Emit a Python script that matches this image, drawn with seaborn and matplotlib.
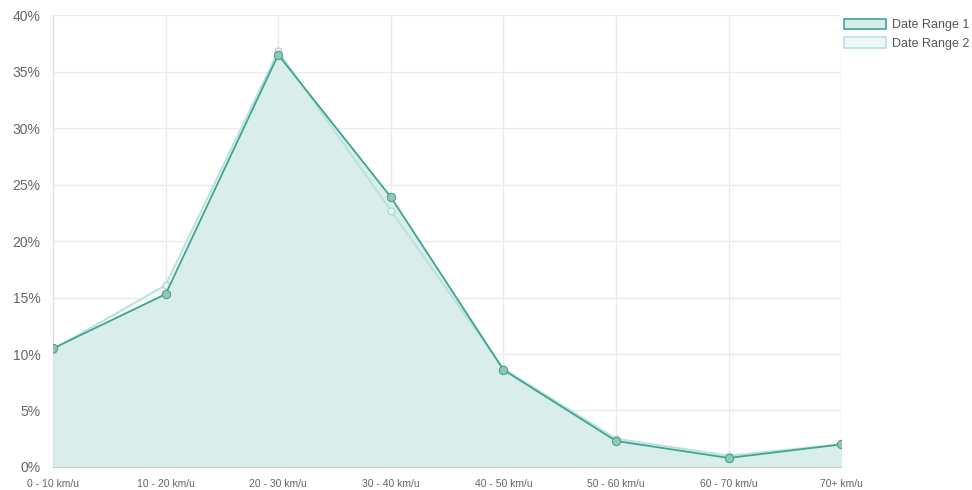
import pandas as pd
import numpy as np
import matplotlib.pyplot as plt
import seaborn as sns
from matplotlib.patches import Patch

# Data
categories = ['0 - 10 km/u', '10 - 20 km/u', '20 - 30 km/u', '30 - 40 km/u',
              '40 - 50 km/u', '50 - 60 km/u', '60 - 70 km/u', '70+ km/u']
range_1 = [10.5, 15.3, 36.5, 23.9, 8.6, 2.3, 0.8, 2.0]
range_2 = [10.4, 16.1, 36.8, 22.7, 8.7, 2.5, 1.0, 2.0]

line_1 = '#3fa58f'
fill_1 = '#d9eeeb'
line_2 = '#b8e2e0'
fill_2 = '#eef8f8'

df = pd.DataFrame({'speed': categories * 2,
                   'pct': range_1 + range_2,
                   'series': ['Date Range 1'] * 8 + ['Date Range 2'] * 8})

sns.set_style('white')
plt.rcParams['font.family'] = ['Liberation Sans', 'DejaVu Sans']

fig = plt.figure(figsize=(9.72, 4.9), dpi=100)
ax = fig.add_axes([0.0545, 0.047, 0.811, 0.922])

x = np.arange(len(categories))
ax.fill_between(x, range_2, color=fill_2, alpha=0.6, zorder=1)
ax.fill_between(x, range_1, color=fill_1, zorder=1)

sns.lineplot(data=df[df.series == 'Date Range 2'], x='speed', y='pct', ax=ax,
             color=line_2, linewidth=1.4, marker='o', markersize=5,
             markerfacecolor='#e6f4f3', markeredgecolor='#a9cfcc', zorder=3,
             sort=False)
sns.lineplot(data=df[df.series == 'Date Range 1'], x='speed', y='pct', ax=ax,
             color=line_1, linewidth=1.3, marker='o', markersize=6,
             markerfacecolor='#8fc7b8', markeredgecolor='#4d9d88', zorder=4,
             sort=False)

ax.set_xlim(0, len(categories) - 1)
ax.set_ylim(0, 40)
ax.set_yticks(range(0, 41, 5))
ax.set_yticklabels([f'{v}%' for v in range(0, 41, 5)], fontsize=10, color='#666666')
ax.set_xticks(x)
ax.set_xticklabels(categories, fontsize=7.5, color='#666666')
ax.set_xlabel('')
ax.set_ylabel('')
ax.grid(True, color='#ebebeb', linewidth=1)
ax.tick_params(axis='both', length=0)
ax.tick_params(axis='x', pad=9)
ax.tick_params(axis='y', pad=9)
for s in ['top', 'right']:
    ax.spines[s].set_visible(False)
ax.spines['left'].set_color('#e0e0e0')
ax.spines['bottom'].set_color('#cccccc')

handles = [Patch(facecolor=fill_1, edgecolor=line_1, linewidth=1.2, label='Date Range 1'),
           Patch(facecolor=fill_2, edgecolor=line_2, linewidth=1.2, label='Date Range 2')]
leg = fig.legend(handles=handles, loc='upper left', bbox_to_anchor=(0.857, 0.985),
                 frameon=False, fontsize=9, handlelength=3.3, handleheight=0.9,
                 labelspacing=0.5, handletextpad=0.5)
for t in leg.get_texts():
    t.set_color('#555555')

plt.savefig('out.png', dpi=100)
